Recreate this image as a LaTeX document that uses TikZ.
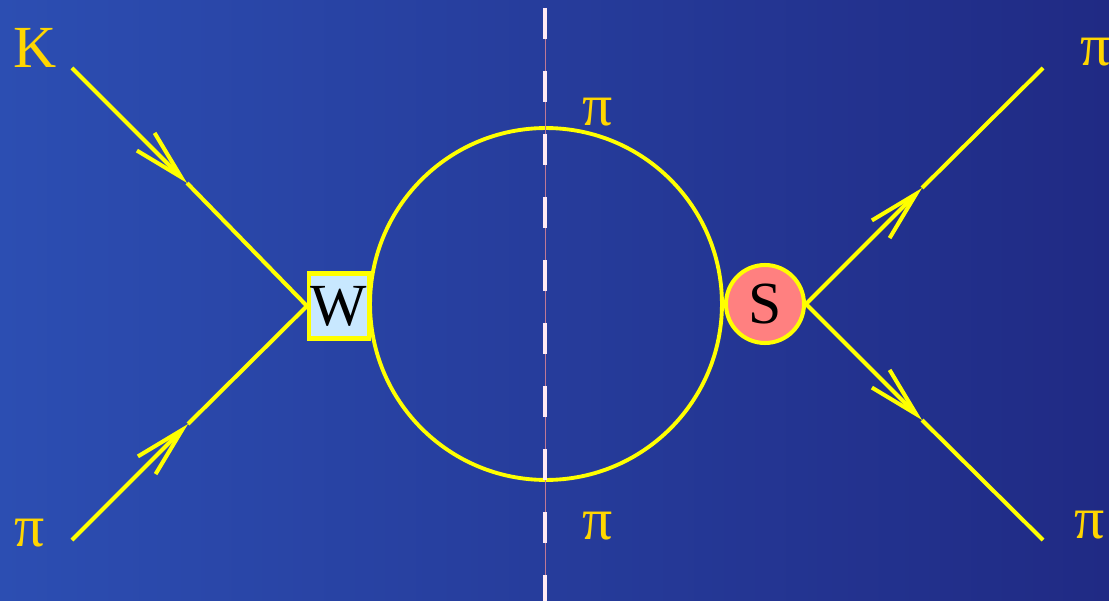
\documentclass[tikz,border=0pt]{standalone}
\usepackage{fontspec}
\setmainfont{Liberation Serif}
\usetikzlibrary{arrows.meta}
\definecolor{bgleft}{RGB}{44,78,178}
\definecolor{bgright}{RGB}{32,42,132}
\definecolor{lineyellow}{RGB}{255,255,0}
\definecolor{labelgold}{RGB}{255,214,0}
\definecolor{wfill}{RGB}{200,232,255}
\definecolor{sfill}{RGB}{255,128,128}
\definecolor{cutwhite}{RGB}{255,234,244}
\definecolor{cutpink}{RGB}{190,120,150}

\begin{document}
\begin{tikzpicture}[
    x=0.02cm, y=-0.02cm,
    lbl/.style={text=labelgold, inner sep=0pt, font=\fontsize{34}{40}\selectfont},
    leg/.style={draw=lineyellow, line width=2.3pt},
    flow/.style={leg, -{Straight Barb[length=1cm, width=0.5cm]}},
    wbox/.style={rectangle, draw=lineyellow, line width=2.3pt, fill=wfill,
        minimum width=1.2cm, minimum height=1.3cm, inner sep=0pt,
        font=\fontsize{34}{40}\selectfont},
    sblob/.style={circle, draw=lineyellow, line width=2.3pt, fill=sfill,
        minimum size=1.56cm, inner sep=0pt, font=\fontsize{34}{40}\selectfont},
    pionloop/.style={circle, draw=lineyellow, line width=2.2pt,
        minimum size=7.04cm, inner sep=0pt}]

    \shade[left color=bgleft, right color=bgright] (0,0) rectangle (1109,601);
    \useasboundingbox (0,0) rectangle (1109,601);

    \node[pionloop] (loop) at (546,304) {};

    \coordinate (cuttop) at (545,8);
    \coordinate (cutbot) at (545,601);
    \draw[cutpink, line width=0.5pt] (cuttop) -- (cutbot);
    \draw[cutwhite, line width=2.8pt, dash pattern=on 0.62cm off 0.64cm] (cuttop) -- (cutbot);

    \node[wbox] (w) at (339,306) {W};
    \node[sblob] (s) at (765,304) {S};

    \coordinate (kin) at (72,68);
    \coordinate (ktip) at (187,183);
    \draw[flow] (kin) -- (ktip);
    \draw[leg] (ktip) -- (w.west);

    \coordinate (pin) at (72,540);
    \coordinate (ptip) at (188,424);
    \draw[flow] (pin) -- (ptip);
    \draw[leg] (ptip) -- (w.west);

    \coordinate (uptip) at (922,188);
    \coordinate (upout) at (1043,68);
    \draw[flow] (s.east) -- (uptip);
    \draw[leg] (uptip) -- (upout);

    \coordinate (dntip) at (922,420);
    \coordinate (dnout) at (1043,540);
    \draw[flow] (s.east) -- (dntip);
    \draw[leg] (dntip) -- (dnout);

    \node[lbl] (klabel) at (35,48) {K};
    \node[lbl] (pilabel) at (30,533) {π};
    \node[lbl] (toppi) at (598,112) {π};
    \node[lbl] (botpi) at (598,526) {π};
    \node[lbl] (outup) at (1096,52) {π};
    \node[lbl] (outdn) at (1090,525) {π};
  \end{tikzpicture}
\end{document}
